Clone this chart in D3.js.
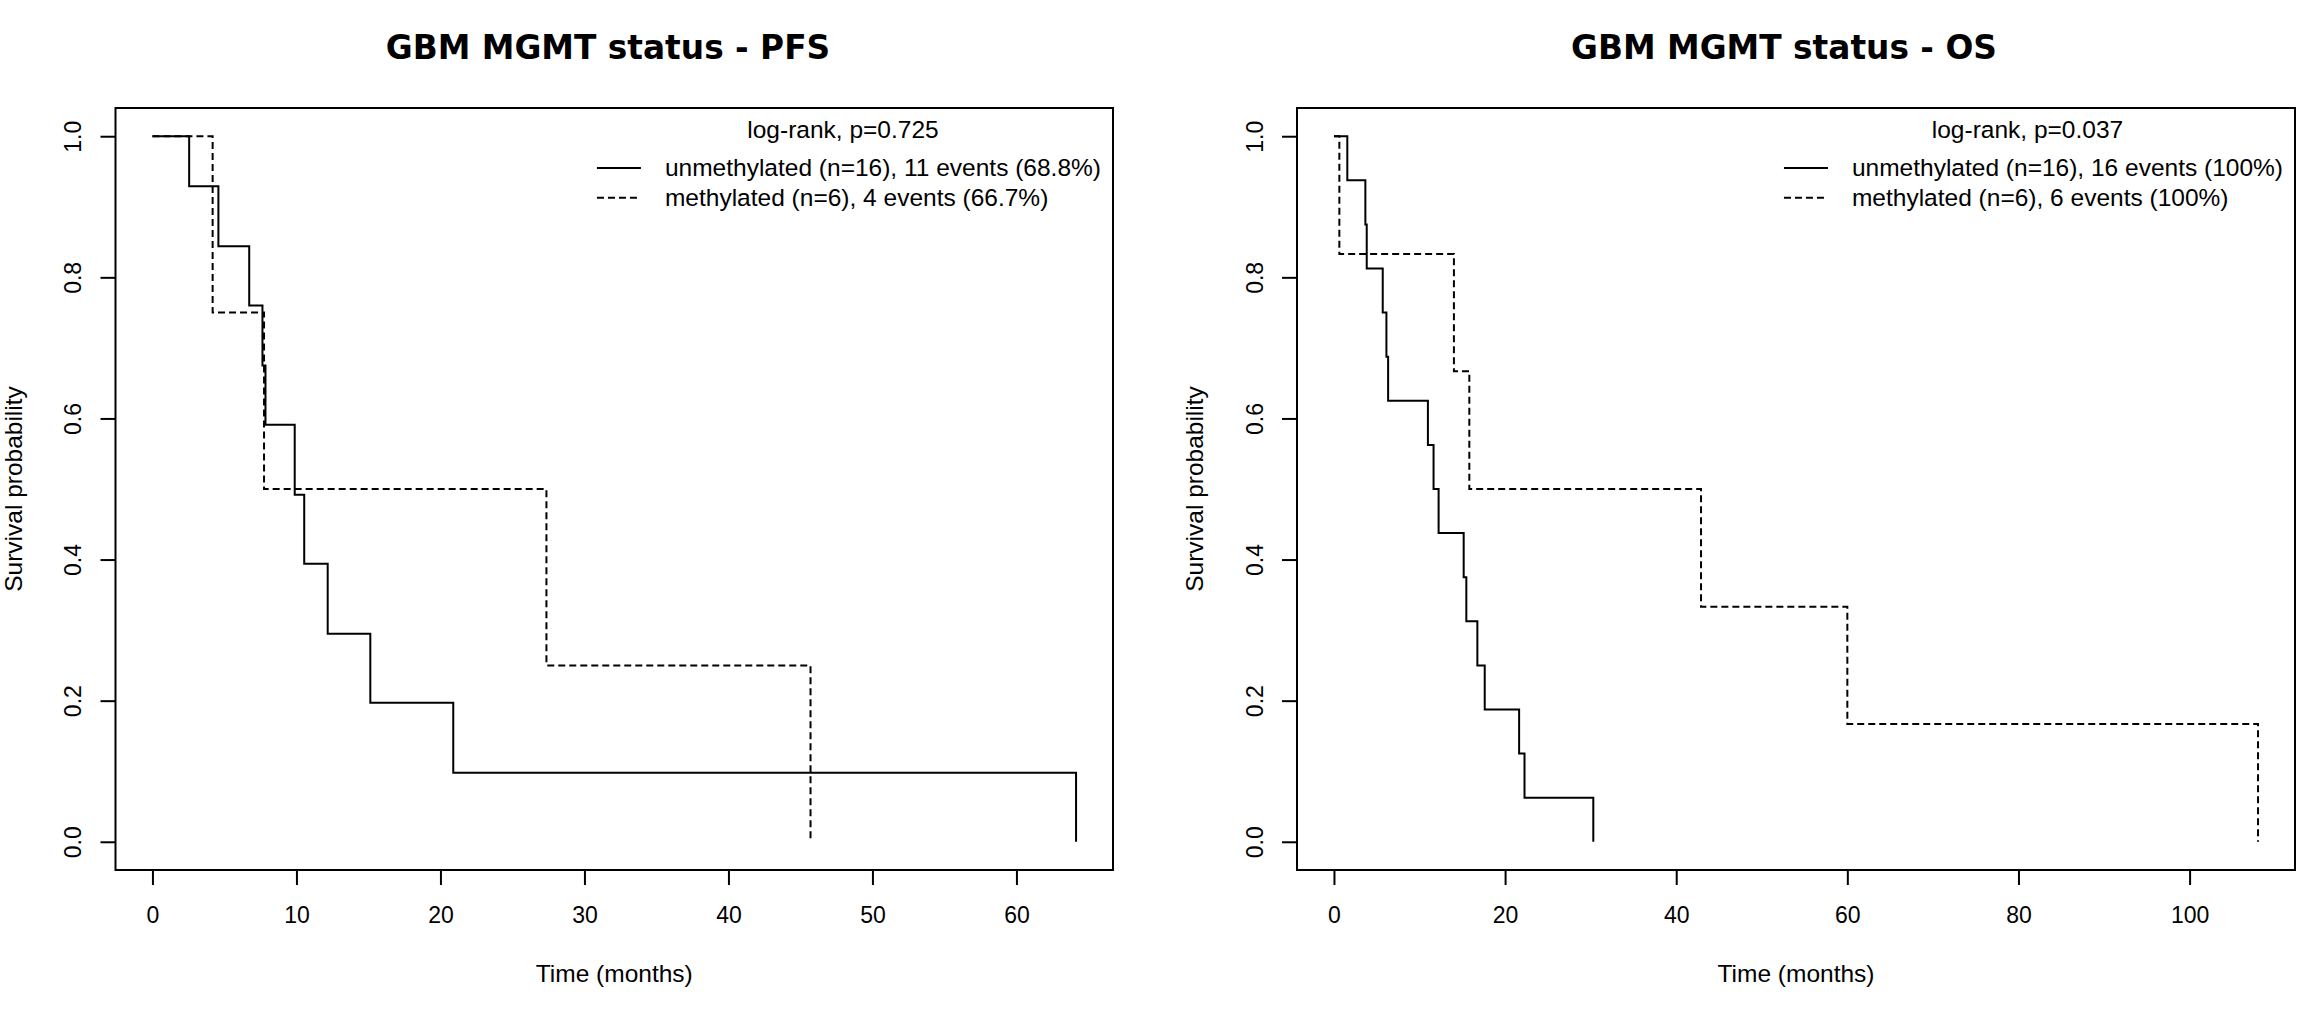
<!DOCTYPE html>
<html>
<head>
<meta charset="utf-8">
<script src="https://cdn.jsdelivr.net/npm/d3@7"></script>
<style>
  html, body { margin: 0; padding: 0; background: #fff; }
  svg { display: block; }
</style>
</head>
<body>
<svg id="chart" width="2299" height="1014"></svg>
<script>
// ---------------- DATA ----------------
const panelTitles = ["GBM MGMT status - PFS", "GBM MGMT status - OS"];
const logrankLabels = ["log-rank, p=0.725", "log-rank, p=0.037"];
const seriesNames = ["unmethylated", "methylated"];

const pfsLegend = ["unmethylated (n=16), 11 events (68.8%)", "methylated (n=6), 4 events (66.7%)"];
const osLegend = ["unmethylated (n=16), 16 events (100%)", "methylated (n=6), 6 events (100%)"];

// PFS: unmethylated
const pfsUnmethTime = [0, 2.55, 4.58, 6.72, 7.64, 7.85, 9.88, 10.54, 12.17, 15.13, 20.89, 64.14];
const pfsUnmethSurv = [1, 0.929, 0.844, 0.760, 0.675, 0.591, 0.492, 0.394, 0.295, 0.197, 0.098, 0];
// PFS: methylated
const pfsMethTime = [0, 4.18, 7.75, 27.36, 45.7];
const pfsMethSurv = [1, 0.75, 0.5, 0.25, 0];

// OS: unmethylated
const osUnmethTime = [0, 1.56, 3.67, 3.83, 5.70, 6.13, 6.33, 10.98, 11.64, 12.23, 15.16, 15.47, 16.76, 17.62, 21.64, 22.27, 30.31];
const osUnmethSurv = [1, 0.9375, 0.875, 0.8125, 0.75, 0.6875, 0.625, 0.5625, 0.5, 0.4375, 0.375, 0.3125, 0.25, 0.1875, 0.125, 0.0625, 0];
// OS: methylated
const osMethTime = [0, 0.63, 14.02, 15.82, 42.9, 60.0, 108.0];
const osMethSurv = [1, 0.833, 0.667, 0.5, 0.333, 0.167, 0];

const pfsXTicks = [0, 10, 20, 30, 40, 50, 60];
const osXTicks = [0, 20, 40, 60, 80, 100];
const yTicks = [0, 0.2, 0.4, 0.6, 0.8, 1.0];
const xAxisTitle = "Time (months)";
const yAxisTitle = "Survival probability";

// ---------------- LAYOUT ----------------
const panels = [
  { title: panelTitles[0], logrank: logrankLabels[0], legend: pfsLegend, xTicks: pfsXTicks,
    series: [ {t: pfsUnmethTime, s: pfsUnmethSurv}, {t: pfsMethTime, s: pfsMethSurv} ],
    left: 115.5, right: 1113, titleX: 608 },
  { title: panelTitles[1], logrank: logrankLabels[1], legend: osLegend, xTicks: osXTicks,
    series: [ {t: osUnmethTime, s: osUnmethSurv}, {t: osMethTime, s: osMethSurv} ],
    left: 1297, right: 2295, titleX: 1784 }
];
const boxTop = 108, boxBottom = 870;
const sansFont = "'Liberation Sans', Arial, Helvetica, sans-serif";
const titleFont = "'DejaVu Sans', Verdana, sans-serif";
const dashPattern = "7,4";
const lw = 2;

const svg = d3.select("#chart");

panels.forEach(p => {
  const g = svg.append("g");
  const allT = p.series.flatMap(s => s.t);
  const xmax = d3.max(allT);
  const x = d3.scaleLinear().domain([-0.04 * xmax, 1.04 * xmax]).range([p.left, p.right]);
  const y = d3.scaleLinear().domain([-0.04, 1.04]).range([boxBottom, boxTop]);

  // Title
  g.append("text")
    .attr("x", p.titleX).attr("y", 59)
    .attr("text-anchor", "middle")
    .style("font-family", titleFont).style("font-weight", "bold").style("font-size", "32.8px")
    .text(p.title);

  // Curves
  const line = d3.line().x(d => x(d[0])).y(d => y(d[1])).curve(d3.curveStepAfter);
  p.series.forEach((s, i) => {
    const pts = s.t.map((t, k) => [t, s.s[k]]);
    g.append("path")
      .attr("d", line(pts))
      .attr("fill", "none")
      .attr("stroke", "#000")
      .attr("stroke-width", lw)
      .attr("stroke-dasharray", i === 1 ? dashPattern : null);
  });

  // X axis
  const xAxis = d3.axisBottom(x).tickValues(p.xTicks).tickSize(15).tickFormat(d3.format("d"));
  const gx = g.append("g").attr("transform", `translate(0,${boxBottom})`).call(xAxis);
  gx.select(".domain").remove();
  gx.selectAll(".tick line").attr("stroke", "#000").attr("stroke-width", lw);
  gx.selectAll(".tick text")
    .attr("y", 53).attr("dy", null)
    .style("font-family", sansFont).style("font-size", "23px").attr("fill", "#000");

  // Y axis
  const yAxis = d3.axisLeft(y).tickValues(yTicks).tickSize(15).tickFormat(d3.format(".1f"));
  const gy = g.append("g").attr("transform", `translate(${p.left},0)`).call(yAxis);
  gy.select(".domain").remove();
  gy.selectAll(".tick line").attr("stroke", "#000").attr("stroke-width", lw);
  gy.selectAll(".tick text")
    .attr("x", null).attr("dy", null)
    .attr("transform", "translate(-34.5,0) rotate(-90)")
    .attr("text-anchor", "middle")
    .style("font-family", sansFont).style("font-size", "23px").attr("fill", "#000");

  // Box
  g.append("rect")
    .attr("x", p.left).attr("y", boxTop)
    .attr("width", p.right - p.left).attr("height", boxBottom - boxTop)
    .attr("fill", "none").attr("stroke", "#000").attr("stroke-width", lw);

  // Axis titles
  g.append("text")
    .attr("x", (p.left + p.right) / 2).attr("y", 982)
    .attr("text-anchor", "middle")
    .style("font-family", sansFont).style("font-size", "24.5px")
    .text(xAxisTitle);
  g.append("text")
    .attr("transform", `translate(${p.left - 94},${(boxTop + boxBottom) / 2}) rotate(-90)`)
    .attr("text-anchor", "middle")
    .style("font-family", sansFont).style("font-size", "24.5px")
    .text(yAxisTitle);

  // Legend
  const lg = g.append("g");
  const texts = p.legend.map((lab, i) => lg.append("text")
    .attr("y", [175.5, 205.5][i])
    .style("font-family", sansFont).style("font-size", "24.5px")
    .text(lab));
  const maxW = d3.max(texts, t => t.node().getComputedTextLength());
  const textX = p.right - 12 - maxW;
  texts.forEach(t => t.attr("x", textX));
  [168, 197.7].forEach((ly, i) => {
    lg.append("line")
      .attr("x1", textX - 68).attr("x2", textX - 24)
      .attr("y1", ly).attr("y2", ly)
      .attr("stroke", "#000").attr("stroke-width", lw)
      .attr("stroke-dasharray", i === 1 ? dashPattern : null);
  });
  lg.append("text")
    .attr("x", (textX - 68 + textX + maxW) / 2 - 6).attr("y", 137.5)
    .attr("text-anchor", "middle")
    .style("font-family", sansFont).style("font-size", "24.5px")
    .text(p.logrank);
});
</script>
</body>
</html>
